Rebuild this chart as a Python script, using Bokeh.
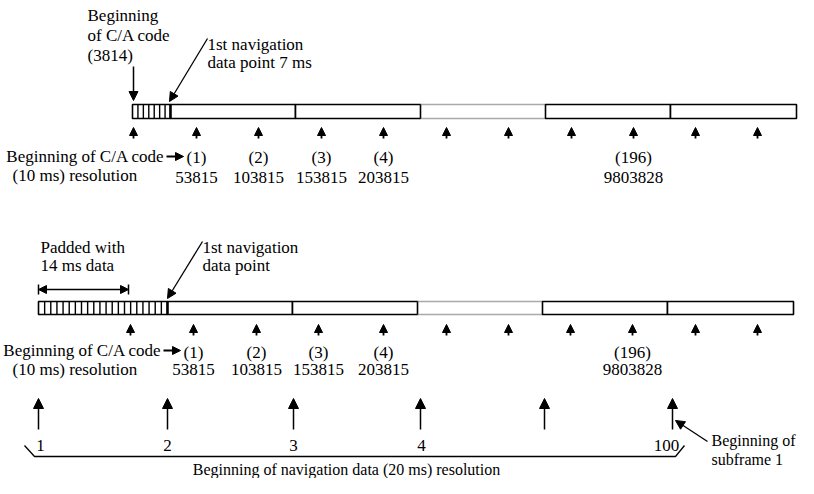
from bokeh.plotting import figure
from bokeh.models import Range1d, Arrow, NormalHead, ColumnDataSource
from bokeh.embed import file_html
from bokeh.resources import INLINE
from bokeh.core.properties import value

FONT = "Liberation Serif"
FS = "17px"

# ---- diagram content (diagram units ~ pixels) ----
# upper bar: C/A code start, 7 one-ms cells, then 20 ms navigation bits
top_start = 132
top_cells = 7
top_edges = [170, 295, 420, 545, 670, 796]
top_y = (104, 118)

# lower bar: 14 ms padding + 7 ms, then 20 ms navigation bits
mid_start = 38
mid_cells = 21
mid_edges = [167, 292, 417, 542, 667, 793]
mid_y = (301, 314)
dotted_seg = 2  # segment drawn with dotted border

# 10 ms resolution sample arrows
top_arrows = [133, 196, 258, 321, 383, 446, 508, 571, 633, 695, 757]
mid_arrows = [130, 193, 256, 318, 383, 446, 508, 570, 632, 695, 757]
sample_ids = ["(1)", "(2)", "(3)", "(4)", "(196)"]
sample_pts = ["53815", "103815", "153815", "203815", "9803828"]
sample_at = [1, 2, 3, 4, 8]

# 20 ms navigation data resolution
nav_x = [38, 167, 293, 420, 544, 672]
nav_labels = ["1", "2", "3", "4", "", "100"]
nav_label_x = [40, 167, 293, 421, 544, 666]

p = figure(width=798, height=478, output_backend="svg", toolbar_location=None,
           x_range=Range1d(0, 798), y_range=Range1d(478, 0), min_border=0,
           tools="")
p.axis.visible = False
p.xgrid.visible = False
p.ygrid.visible = False
p.outline_line_color = None
p.background_fill_color = "white"


def txt(xs, ys, texts, align="left", size=FS):
    src = ColumnDataSource(dict(x=xs, y=ys, t=texts))
    p.text("x", "y", text="t", source=src, text_font=value(FONT), text_font_size=size,
           text_baseline="middle", text_align=align, text_color="black")


def arrows(xs0, ys0, xs1, ys1, size=8, width=1.5):
    src = ColumnDataSource(dict(x0=xs0, y0=ys0, x1=xs1, y1=ys1))
    p.add_layout(Arrow(end=NormalHead(size=size, fill_color="black", line_color="black", line_width=1),
                       x_start="x0", y_start="y0", x_end="x1", y_end="y1", source=src,
                       line_color="black", line_width=width))


def bar(start, cells, edges, y0, y1):
    # hatched C/A part
    p.quad(left=[start], right=[edges[0]], bottom=[y1], top=[y0], fill_color="white",
           line_color="black", line_width=1.6)
    step = (edges[0] - start) / cells
    hx = [start + step * k for k in range(1, cells)]
    p.segment(x0=hx, y0=[y0] * len(hx), x1=hx, y1=[y1] * len(hx), line_color="black", line_width=1.4)
    for i in range(len(edges) - 1):
        if i == dotted_seg:
            p.segment(x0=[edges[i]] * 2, y0=[y0, y1], x1=[edges[i + 1]] * 2, y1=[y0, y1],
                      line_color="#555555", line_width=1.5, line_dash="1 1")
        else:
            p.quad(left=[edges[i]], right=[edges[i + 1]], bottom=[y1], top=[y0],
                   fill_color="white", line_color="black", line_width=1.6)
    p.segment(x0=[edges[0]], y0=[y0], x1=[edges[0]], y1=[y1], line_color="black", line_width=2.4)


bar(top_start, top_cells, top_edges, *top_y)
bar(mid_start, mid_cells, mid_edges, *mid_y)

# small sample arrows
arrows(top_arrows, [138] * len(top_arrows), top_arrows, [127] * len(top_arrows), size=8, width=1.8)
arrows(mid_arrows, [335] * len(mid_arrows), mid_arrows, [324] * len(mid_arrows), size=8, width=1.8)

# sample labels
txt([164], [156], ["Beginning of C/A code"], align="right")
arrows([166], [156], [183], [156], size=8, width=2)
txt([12], [175], ["(10 ms) resolution"])
txt([top_arrows[i] for i in sample_at], [157] * 5, sample_ids, align="center")
txt([top_arrows[i] for i in sample_at], [177] * 5, sample_pts, align="center")

txt([161], [350], ["Beginning of C/A code"], align="right")
arrows([163], [350], [180], [350], size=8, width=2)
txt([12], [369], ["(10 ms) resolution"])
txt([mid_arrows[i] for i in sample_at], [352] * 5, sample_ids, align="center")
txt([mid_arrows[i] for i in sample_at], [369] * 5, sample_pts, align="center")

# top annotations
txt([87, 87, 87], [15, 35, 55], ["Beginning", "of C/A code", "(3814)"])
arrows([133], [66], [133], [100], size=9, width=1.5)
txt([207, 207], [44, 62], ["1st navigation", "data point 7 ms"])
arrows([207], [38], [169], [101], size=9, width=1.3)

# middle annotations
txt([40, 40], [247, 265], ["Padded with", "14 ms data"])
src_pad = ColumnDataSource(dict(x0=[38], x1=[128], y=[289]))
p.add_layout(Arrow(start=NormalHead(size=8, fill_color="black", line_color="black"),
                   end=NormalHead(size=8, fill_color="black", line_color="black"),
                   x_start="x0", y_start="y", x_end="x1", y_end="y", source=src_pad,
                   line_color="black", line_width=1.5))
p.segment(x0=[38, 128], y0=[284, 284], x1=[38, 128], y1=[294, 294], line_color="black", line_width=1.5)
txt([202, 202], [247, 265], ["1st navigation", "data point"])
arrows([202], [241], [167], [298], size=9, width=1.3)

# navigation-data arrows
arrows(nav_x, [429] * len(nav_x), nav_x, [398] * len(nav_x), size=10, width=1.5)
txt(nav_label_x, [445] * len(nav_x), nav_labels, align="center")
p.line([24, 34, 675, 684], [445, 456, 456, 445], line_color="black", line_width=1.3)
txt([346], [469], ["Beginning of navigation data (20 ms) resolution"], align="center", size="16px")

# subframe annotation
arrows([707], [441], [675], [420], size=9, width=1.3)
txt([711, 711], [440, 459], ["Beginning of", "subframe 1"], size="16px")

open("out.html", "w").write(file_html(p, INLINE))
